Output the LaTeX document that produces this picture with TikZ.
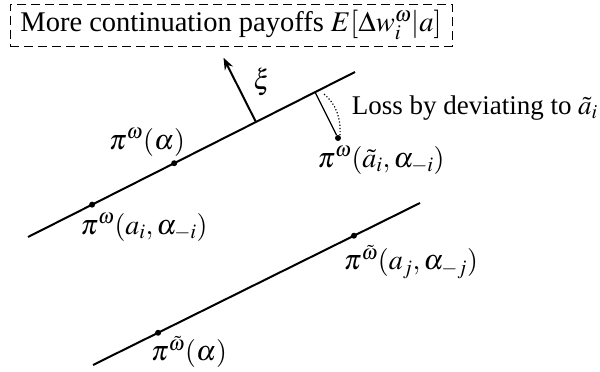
\documentclass[tikz,border=0pt]{standalone}
\usepackage{mathptmx}
\usepackage{fontspec}
\setmainfont{Liberation Serif}
\usetikzlibrary{calc,arrows.meta}
\begin{document}
\begin{tikzpicture}[x=1pt,y=-1pt,
  every node/.style={font=\fontsize{28}{32}\selectfont, inner sep=1pt},
  dot/.style={circle,fill=black,inner sep=0pt,minimum size=6pt},
  mainline/.style={line width=2pt}]
\useasboundingbox (0,0) rectangle (600,372);
% top line
\coordinate (A1) at (28,237);
\coordinate (A2) at (355,72);
\draw[mainline] (A1) -- (A2);
\node[dot] (p1) at ($(A1)!0.447!(A2)$) {};
\node[dot] (p2) at ($(A1)!0.196!(A2)$) {};
\coordinate (foot) at ($(A1)!0.697!(A2)$);
\coordinate (dev) at ($(A1)!0.878!(A2)$);
% xi arrow
\coordinate (tip) at ($(foot)!72pt!90:(A2)$);
\draw[line width=2pt,-{Stealth[length=12pt,width=9pt]}] (foot) -- (tip);
\node (xi) at (262,82) {$\xi$};
% deviation
\node[dot] (pd) at (338,138) {};
\draw[line width=1.2pt] (dev) -- (pd);
\draw[dotted,line width=1.2pt] ($(dev)+(9,2)$) .. controls (336,104) and (341,118) .. ($(pd)+(2,-3)$);
\node[anchor=east,font=\fontsize{27}{32}\selectfont] (loss) at (599,108) {Loss by deviating to $\tilde a_i$};
% labels top
\node (l1) at (147,142) {$\pi^{\omega}(\alpha)$};
\node (l2) at (144,227) {$\pi^{\omega}(a_i,\alpha_{-i})$};
\node (l3) at (381,160) {$\pi^{\omega}(\tilde a_i,\alpha_{-i})$};
% box
\node[draw,dash pattern=on 9pt off 5pt,line width=1pt,minimum width=442pt,minimum height=42pt,font=\fontsize{28.5}{32}\selectfont] (box) at (231,25) {More continuation payoffs $E[\Delta w_i^{\omega}|a]$};
% bottom line
\coordinate (B1) at (93,365);
\coordinate (B2) at (420,203);
\draw[mainline] (B1) -- (B2);
\node[dot] (q1) at ($(B1)!0.798!(B2)$) {};
\node[dot] (q2) at ($(B1)!0.199!(B2)$) {};
\node (l4) at (411,262) {$\pi^{\tilde\omega}(a_j,\alpha_{-j})$};
\node (l5) at (189,352) {$\pi^{\tilde\omega}(\alpha)$};
\end{tikzpicture}
\end{document}
